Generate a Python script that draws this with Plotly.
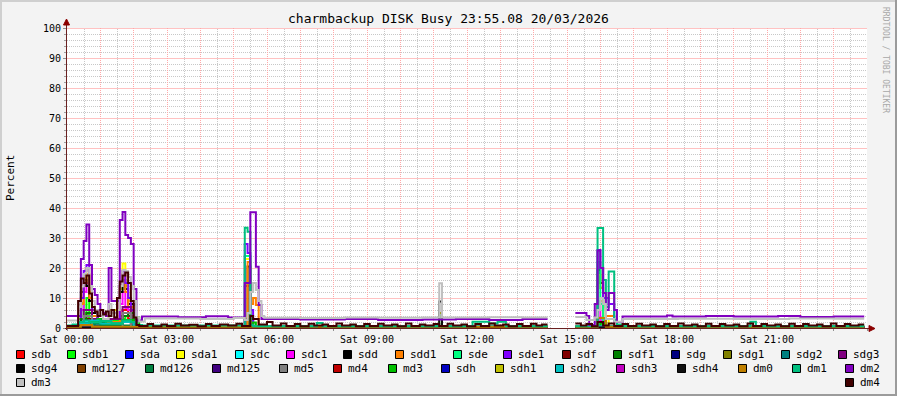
import plotly.graph_objects as go

# ---------------- text ----------------
TITLE = "charmbackup DISK Busy 23:55.08 20/03/2026"
Y_LABEL = "Percent"
WATERMARK = "RRDTOOL / TOBI OETIKER"

# x axis in minutes since Sat 00:00
X_LABEL_TIMES = [0, 180, 360, 540, 720, 900, 1080, 1260]
X_LABEL_TEXT = ["Sat 00:00", "Sat 03:00", "Sat 06:00", "Sat 09:00",
                "Sat 12:00", "Sat 15:00", "Sat 18:00", "Sat 21:00"]
Y_TICKS = [0, 10, 20, 30, 40, 50, 60, 70, 80, 90, 100]
END_TIME = 1435

# ---------------- data: (minute, percent), None = no data ----------------
SDB = [(0, 0.3), (25, 3), (35, 5), (40, 3), (50, 1.5), (95, 4), (100, 6), (110, 3), (120, 0.3),
       (320, 3), (330, 0.3), (865, None), (915, 0.3), (955, 2), (970, 0.3)]
SDB1 = [(0, 0.5), (20, 3), (25, 8.3), (30, 4), (35, 10), (40, 3), (50, 2), (60, 1), (70, 2.5),
        (95, 3), (105, 4), (115, 2), (125, 0.4), (325, 1.5), (330, 0.4), (865, None),
        (915, 0.4), (960, 1.5), (970, 0.4)]
SDA = [(0, 0.2), (30, 2), (45, 0.2), (100, 2.5), (115, 0.2), (865, None), (915, 0.2)]
SDA1 = [(0, 0.3), (25, 8), (30, 14), (35, 20), (40, 12), (45, 5), (55, 2), (75, 6), (95, 13),
        (100, 21.5), (105, 14), (110, 9), (115, 5), (120, 0.3), (320, 23), (330, 2), (335, 0.3),
        (865, None), (915, 0.3), (955, 9), (965, 3), (975, 0.3)]
SDC = [(0, 0.3), (20, 2), (40, 1), (60, 2), (80, 1.5), (100, 2.5), (120, 0.3), (325, 3), (335, 0.3),
       (670, 5), (675, 0.3), (865, None), (915, 0.3), (960, 3), (970, 0.3)]
SDC1 = [(0, 0.3), (25, 6), (30, 12), (35, 15), (40, 9), (45, 4), (55, 1.5), (80, 3), (95, 8),
        (100, 12), (105, 6.7), (110, 6), (115, 4), (120, 0.3), (320, 14), (330, 3), (335, 0.3),
        (865, None), (915, 0.3), (955, 9), (960, 2.5), (970, 0.3)]
SDD = [(0, 0.2), (25, 12), (30, 16), (35, 14), (40, 9), (45, 5), (55, 3), (95, 12), (100, 16),
       (105, 13), (110, 8), (120, 0.2), (325, 20.5), (330, 1), (335, 0.2), (865, None),
       (915, 0.2), (955, 19.3), (960, 15), (965, 0.2)]
SDD1 = [(0, 0.2), (25, 8), (30, 15), (35, 18), (40, 10), (45, 4), (55, 2), (95, 14), (100, 18),
        (105, 12), (110, 7), (120, 0.2), (325, 22), (330, 8), (335, 10), (340, 7.7), (345, 0.2),
        (865, None), (915, 0.2), (955, 17.7), (960, 13.3), (965, 0.8), (970, 4), (980, 4), (985, 0.2)]
SDE = [(0, 0.2), (20, 1), (40, 3), (60, 1), (100, 2), (120, 0.2), (320, 24), (330, 3), (335, 0.2),
       (865, None), (915, 0.2), (955, 22), (960, 8), (965, 0.2)]
SDE1 = [(0, 0.3), (25, 10), (30, 19), (35, 21), (40, 14), (45, 6), (55, 3), (95, 14), (100, 19),
        (105, 15), (110, 10), (115, 6), (120, 0.3), (320, 28), (325, 25), (330, 6), (335, 0.3),
        (865, None), (915, 0.3), (955, 26), (960, 20), (965, 10), (975, 8), (985, 0.3)]
SDF = [(0, 0.2), (30, 3), (45, 0.2), (100, 4), (115, 0.2), (865, None), (915, 0.2)]
SDF1 = [(0, 0.4), (25, 3), (35, 5), (45, 2), (70, 3), (100, 4), (110, 5), (120, 2), (125, 0.4),
        (865, None), (915, 0.4)]
SDG = [(0, 0.1), (865, None), (915, 0.1)]
SDG1 = [(0, 0.1), (865, None), (915, 0.1)]
SDG2 = [(0, 0.3), (30, 1.5), (50, 0.8), (100, 2), (120, 0.3), (865, None), (915, 0.3)]
SDG3 = [(0, 0.3), (30, 6), (45, 3), (100, 7), (115, 3), (125, 0.3), (865, None), (915, 0.3)]
SDG4 = [(0, 0.1), (865, None), (915, 0.1)]
MD127 = [(0, 0.5), (20, 1), (40, 0.5), (865, None), (915, 0.5)]
MD126 = [(0, 0.3), (25, 1.5), (60, 0.8), (120, 0.3), (865, None), (915, 0.3)]
MD125 = [(0, 0.2), (865, None), (915, 0.2)]
MD5 = [(0, 0.2), (30, 4), (45, 0.2), (100, 5), (115, 0.2), (865, None), (915, 0.2)]
MD4 = [(0, 0.2), (865, None), (915, 0.2)]
MD3 = [(0, 0.3), (40, 2), (55, 3), (70, 1.5), (100, 2.7), (120, 3.5), (130, 0.3), (335, 1.8),
       (340, 0.3), (865, None), (915, 0.3), (960, 1.5), (970, 0.3)]
SDH = [(0, 0.1), (865, None), (915, 0.1)]
SDH1 = [(0, 0.2), (670, 5), (675, 0.2), (865, None), (915, 0.2)]
SDH2 = [(0, 0.6), (20, 1.5), (40, 2.5), (60, 1.5), (100, 2), (120, 0.6), (865, None), (915, 0.6)]
SDH3 = [(0, 0.2), (865, None), (915, 0.2)]
SDH4 = [(0, 0.2), (670, 8.8), (675, 0.2), (865, None), (915, 0.2)]
DM0 = [(0, 0.4), (25, 1), (45, 0.4), (865, None), (915, 0.4), (955, 3.3), (970, 0.4)]
DM1 = [(0, 0.8), (10, 1.2), (20, 2), (30, 2.5), (40, 1.8), (60, 2.3), (80, 1.6), (100, 2.5),
       (115, 2), (125, 1), (135, 0.8), (320, 33.4), (325, 32.1), (330, 1), (335, 0.6),
       (450, 1.7), (460, 0.6), (730, 2.1), (760, 1.5), (775, 2.1), (790, 0.6), (865, None),
       (915, 0.6), (955, 33.3), (965, 16), (970, 7), (975, 18.8), (985, 2.7), (990, 1.2),
       (1000, 0.6), (1230, 2.1), (1240, 0.6)]
DM2 = [(0, 4), (25, 23), (30, 29), (35, 34.5), (40, 21), (45, 13), (50, 11), (55, 8), (60, 6),
       (65, 5), (70, 4), (75, 20), (80, 9), (95, 36), (100, 38.7), (105, 31), (110, 30),
       (115, 28), (120, 13), (125, 2.5), (135, 3.8), (200, 3.6), (250, 3.9), (290, 3.5),
       (320, 15), (330, 38.6), (340, 20.4), (345, 7.7), (350, 3.0), (420, 2.8), (500, 3.0),
       (560, 2.7), (640, 2.8), (700, 3.0), (760, 2.7), (820, 3.0), (865, None), (915, 5),
       (935, 4), (940, 1), (950, 8), (955, 25.8), (960, 20), (965, 11.7), (970, 6), (975, 11.7),
       (985, 6), (990, 2), (1000, 3.8), (1080, 4.2), (1090, 3.8), (1150, 4.0), (1200, 3.8),
       (1280, 4.0), (1320, 3.7), (1380, 3.8)]
DM3 = [(0, 2.5), (20, 7), (25, 13.8), (30, 18), (35, 20), (40, 14), (45, 9), (50, 6), (55, 4),
       (65, 3), (75, 8), (80, 5), (90, 6), (95, 14), (100, 19.3), (105, 19), (110, 17), (115, 14),
       (120, 9), (125, 3.5), (130, 2.2), (140, 3.2), (240, 3.0), (300, 3.3), (320, 2.7),
       (325, 5), (330, 12), (335, 15), (340, 12.7), (345, 9), (350, 4), (355, 3.4), (420, 3.3),
       (500, 3.5), (560, 3.4), (640, 3.5), (670, 14.9), (675, 3.5), (760, 3.6), (820, 3.5),
       (865, None), (915, 3.7), (935, 2.7), (950, 3.5), (955, 6), (960, 10), (965, 8), (970, 3),
       (985, 2.1), (1000, 3.0), (1100, 3.1), (1200, 3.0), (1300, 3.2), (1380, 3.1)]
DM4 = [(0, 0.7), (20, 9), (25, 16.5), (30, 15), (35, 17.5), (40, 11.5), (45, 7), (50, 5.5),
       (55, 4), (60, 6), (65, 4.5), (70, 5.5), (75, 4), (80, 6), (85, 3.5), (90, 10), (95, 15.5),
       (100, 17.5), (105, 18.5), (110, 15), (115, 9), (120, 3.5), (125, 1), (130, 0.7),
       (145, 1.3), (155, 0.6), (170, 1.2), (180, 0.7), (195, 1.4), (205, 0.8), (220, 1.1),
       (235, 0.6), (250, 1.3), (260, 0.7), (275, 1.2), (290, 0.8), (305, 1.4), (315, 0.7),
       (330, 4), (335, 3), (345, 1.2), (360, 2), (370, 0.8), (385, 1.5), (395, 0.7), (410, 1.3),
       (420, 0.6), (435, 1.4), (445, 0.8), (460, 1.2), (470, 0.7), (485, 1.5), (495, 0.8),
       (510, 1.2), (520, 0.6), (535, 1.3), (545, 0.7), (560, 1.4), (570, 0.8), (585, 1.2),
       (595, 0.6), (610, 1.5), (620, 0.7), (635, 1.2), (645, 0.8), (660, 1.3), (670, 0.7),
       (685, 1.4), (695, 0.8), (710, 1.2), (720, 0.6), (735, 1.3), (745, 0.7), (760, 1.5),
       (770, 0.8), (785, 1.2), (795, 0.6), (810, 1.3), (820, 0.7), (835, 1.4), (845, 0.8),
       (855, 1.2), (865, None), (915, 1.5), (925, 0.8), (935, 1.3), (945, 0.6), (955, 2),
       (965, 0.8), (975, 1.5), (985, 0.7), (1000, 1.3), (1010, 0.7), (1025, 1.4), (1035, 0.8),
       (1050, 1.2), (1060, 0.6), (1075, 1.3), (1085, 0.7), (1100, 1.5), (1110, 0.8), (1125, 1.2),
       (1135, 0.6), (1150, 1.4), (1160, 0.7), (1175, 1.3), (1185, 0.8), (1200, 1.2), (1210, 0.6),
       (1225, 1.5), (1235, 0.7), (1250, 1.3), (1260, 0.8), (1275, 1.2), (1285, 0.6), (1300, 1.4),
       (1310, 0.7), (1325, 1.3), (1335, 0.8), (1350, 1.2), (1360, 0.6), (1375, 1.5), (1385, 0.7),
       (1400, 1.3), (1410, 0.8), (1425, 1.2)]

NAMES = ["sdb", "sdb1", "sda", "sda1", "sdc", "sdc1", "sdd", "sdd1", "sde", "sde1", "sdf", "sdf1",
         "sdg", "sdg1", "sdg2", "sdg3", "sdg4", "md127", "md126", "md125", "md5", "md4", "md3",
         "sdh", "sdh1", "sdh2", "sdh3", "sdh4", "dm0", "dm1", "dm2", "dm3", "dm4"]
COLORS = ["#FF0000", "#00FF00", "#0000FF", "#FFFF00", "#00FFFF", "#FF00FF", "#000000", "#FF8000",
          "#00FF80", "#8000FF", "#800000", "#008000", "#000080", "#808000", "#008080", "#800080",
          "#000000", "#804000", "#008040", "#400080", "#808080", "#C00000", "#00C000", "#0000C0",
          "#C0C000", "#00C0C0", "#C000C0", "#101010", "#C08000", "#00C080", "#8000C0", "#C0C0C0",
          "#400000"]
DATA = [SDB, SDB1, SDA, SDA1, SDC, SDC1, SDD, SDD1, SDE, SDE1, SDF, SDF1, SDG, SDG1, SDG2, SDG3,
        SDG4, MD127, MD126, MD125, MD5, MD4, MD3, SDH, SDH1, SDH2, SDH3, SDH4, DM0, DM1, DM2, DM3,
        DM4]

# ---------------- layout geometry (pixels) ----------------
W, H = 897, 396
PL, PR, PT, PB = 67, 867, 28, 328
LEGEND_ROWS = [
    (354, [16, 67, 125, 176, 235, 286, 343, 395, 453, 503, 562, 613, 671, 723, 781, 838]),
    (368, [16, 77, 145, 212, 279, 333, 388, 441, 495, 555, 616, 677, 738, 792, 845]),
    (382, [16, 845]),
]
FONT = "DejaVu Sans Mono"


def px(x):
    return (x - PL) / (PR - PL)


def py(y):
    return (PB - y) / (PB - PT)


def build_xy(points, end):
    xs, ys, prev = [], [], None
    for t, v in points:
        if v is None:
            xs += [t, t]
            ys += [prev, None]
        else:
            xs.append(t)
            ys.append(v)
        prev = v
    if prev is not None:
        xs.append(end)
        ys.append(prev)
    return xs, ys


fig = go.Figure()
for name, color, pts in zip(NAMES, COLORS, DATA):
    xs, ys = build_xy(pts, END_TIME)
    fig.add_trace(go.Scatter(x=xs, y=ys, mode="lines", name=name,
                             line=dict(color=color, width=2, shape="hv"),
                             connectgaps=False, hoverinfo="skip", showlegend=False))

hour_vals = list(range(0, 1441, 60))
hour_text = [X_LABEL_TEXT[X_LABEL_TIMES.index(v)] if v in X_LABEL_TIMES else "" for v in hour_vals]

MAJOR_GRID = "#FFA8A8"
MAJOR_GRID_H = "#FFC2C2"
MINOR_GRID = "#C8C8C8"

fig.update_layout(
    width=W, height=H,
    margin=dict(l=PL, r=W - PR, t=PT, b=H - PB, autoexpand=False),
    paper_bgcolor="#F3F3F3", plot_bgcolor="#FFFFFF",
    showlegend=False,
    font=dict(family=FONT, size=10, color="#000000"),
    xaxis=dict(range=[0, 1440], tickmode="array", tickvals=hour_vals, ticktext=hour_text,
               showgrid=True, gridcolor=MAJOR_GRID, gridwidth=1, griddash="1px,1px",
               ticks="outside", ticklen=2, tickcolor="#909090",
               zeroline=False, showline=False, automargin=False,
               tickfont=dict(size=10, family=FONT)),
    yaxis=dict(range=[0, 100], tickmode="array", tickvals=Y_TICKS,
               showgrid=False,
               ticks="outside", ticklen=3, tickcolor="#909090",
               zeroline=False, showline=False, automargin=False,
               tickfont=dict(size=10, family=FONT),
               minor=dict(tickmode="linear", tick0=0, dtick=2, showgrid=False,
                          ticks="outside", ticklen=2, tickcolor="#A0A0A0")),
)

shapes = []
# minor grid + horizontal major grid (pixel aligned)
for m in range(30, 1440, 60):
    xx = px(round(PL + m * (PR - PL) / 1440) + 0.5)
    shapes.append(dict(type="line", xref="paper", yref="paper", x0=xx, x1=xx, y0=0, y1=1,
                       line=dict(color=MINOR_GRID, width=1, dash="1px,1px"), layer="below"))
for v in range(2, 101, 2):
    yy = py(PB - v * (PB - PT) / 100 + 0.5)
    if v % 10 == 0:
        line = dict(color=MAJOR_GRID_H, width=1)
    else:
        line = dict(color=MINOR_GRID, width=1, dash="1px,1px")
    shapes.append(dict(type="line", xref="paper", yref="paper", x0=0, x1=1, y0=yy, y1=yy,
                       line=line, layer="below"))

# 3D frame
shapes.append(dict(type="rect", xref="paper", yref="paper", x0=px(0), x1=px(W), y0=py(0), y1=py(2),
                   fillcolor="#CFCFCF", line_width=0, layer="above"))
shapes.append(dict(type="rect", xref="paper", yref="paper", x0=px(0), x1=px(2), y0=py(0), y1=py(H),
                   fillcolor="#CFCFCF", line_width=0, layer="above"))
shapes.append(dict(type="rect", xref="paper", yref="paper", x0=px(0), x1=px(W), y0=py(H - 2), y1=py(H),
                   fillcolor="#9B9B9B", line_width=0, layer="above"))
shapes.append(dict(type="rect", xref="paper", yref="paper", x0=px(W - 2), x1=px(W), y0=py(0), y1=py(H),
                   fillcolor="#9B9B9B", line_width=0, layer="above"))
# axes with arrows
AXIS_COL = "#6B2020"
ARROW_COL = "#8B0000"
shapes.append(dict(type="line", xref="paper", yref="paper", x0=px(PL - 0.5), x1=px(PL - 0.5),
                   y0=py(PB + 2), y1=py(PT - 4), line=dict(color=AXIS_COL, width=1), layer="above"))
shapes.append(dict(type="line", xref="paper", yref="paper", x0=px(PL - 2), x1=px(PR + 4),
                   y0=py(PB + 0.5), y1=py(PB + 0.5), line=dict(color=AXIS_COL, width=1), layer="above"))
shapes.append(dict(type="path", xref="paper", yref="paper",
                   path=f"M {px(PL - 3.5)} {py(PT - 3)} L {px(PL + 2.5)} {py(PT - 3)} L {px(PL - 0.5)} {py(PT - 9)} Z",
                   fillcolor=ARROW_COL, line=dict(color=ARROW_COL, width=1), layer="above"))
shapes.append(dict(type="path", xref="paper", yref="paper",
                   path=f"M {px(PR + 2)} {py(PB - 2.5)} L {px(PR + 2)} {py(PB + 3.5)} L {px(PR + 8)} {py(PB + 0.5)} Z",
                   fillcolor=ARROW_COL, line=dict(color=ARROW_COL, width=1), layer="above"))

annotations = []
annotations.append(dict(text=TITLE, xref="paper", yref="paper", x=px(448), y=py(19),
                        xanchor="center", yanchor="middle", showarrow=False,
                        font=dict(family=FONT, size=13, color="#000000")))
annotations.append(dict(text=Y_LABEL, xref="paper", yref="paper", x=px(10), y=py(178),
                        xanchor="center", yanchor="middle", showarrow=False, textangle=-90,
                        font=dict(family=FONT, size=11, color="#000000")))
annotations.append(dict(text=WATERMARK, xref="paper", yref="paper", x=px(886), y=py(60),
                        xanchor="center", yanchor="middle", showarrow=False, textangle=90,
                        font=dict(family=FONT, size=8, color="#A8A8A8")))

# legend drawn as boxes + text, items taken in series order
k = 0
for yc, xs_ in LEGEND_ROWS:
    for bx in xs_:
        name, color = NAMES[k], COLORS[k]
        k += 1
        shapes.append(dict(type="rect", xref="paper", yref="paper",
                           x0=px(bx + 0.5), x1=px(bx + 8.5), y0=py(yc + 4.5), y1=py(yc - 3.5),
                           fillcolor=color, line=dict(color="#000000", width=1), layer="above"))
        annotations.append(dict(text=name, xref="paper", yref="paper", x=px(bx + 13), y=py(yc),
                                xanchor="left", yanchor="middle", showarrow=False,
                                font=dict(family=FONT, size=11, color="#000000")))

fig.update_layout(shapes=shapes, annotations=annotations)
fig.write_html("out.html")
